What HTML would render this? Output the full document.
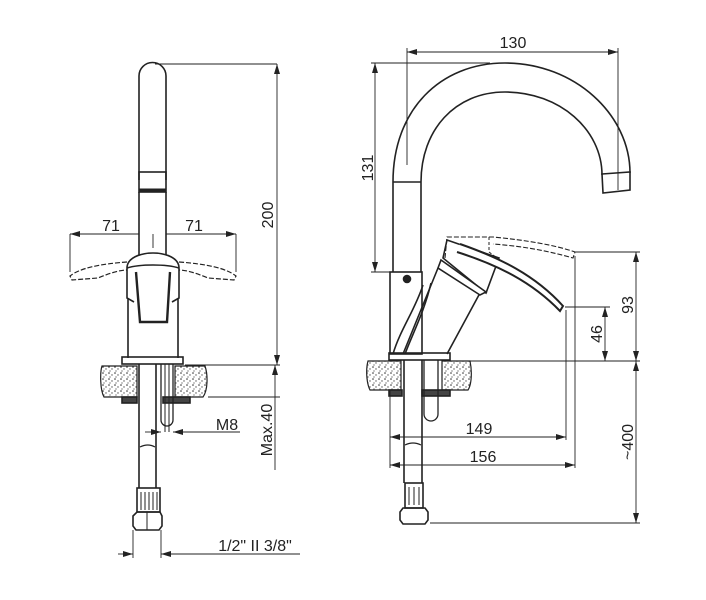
<!DOCTYPE html>
<html><head><style>
html,body{margin:0;padding:0;background:#fff;}
svg{display:block;}
text{font-family:"Liberation Sans",Arial,sans-serif;font-size:16px;fill:#222;}
</style></head><body>
<svg width="706" height="600" viewBox="0 0 706 600" xmlns="http://www.w3.org/2000/svg">
<defs>
<pattern id="st" width="6" height="6" patternUnits="userSpaceOnUse">
<rect width="6" height="6" fill="#fff"/>
<circle cx="1" cy="1" r="0.8" fill="#333"/><circle cx="4" cy="3" r="0.7" fill="#555"/><circle cx="2" cy="5" r="0.6" fill="#444"/>
</pattern>
<marker id="a" viewBox="0 0 10 6" refX="10" refY="3" markerWidth="10" markerHeight="6" orient="auto-start-reverse" markerUnits="userSpaceOnUse"><path d="M0,0L10,3L0,6z" fill="#222"/></marker>
</defs>
<g fill="none" stroke="#222" stroke-width="1.6">
<!-- LEFT VIEW -->
<path d="M139,180 V76 a13.5,13.5 0 0 1 27,0 V180"/>
<rect x="139" y="172" width="27" height="20"/>
<line x1="139" y1="190" x2="166" y2="190" stroke-width="3"/>
<line x1="139" y1="192" x2="139" y2="256"/><line x1="166" y1="192" x2="166" y2="256"/>
<path d="M127,262 C100,264 80,268 70,276 L72,280 L98,278 C110,273 120,270 127,270" stroke-dasharray="5,2" stroke-width="1.2"/>
<path d="M179,262 C206,264 226,268 236,276 L234,280 L208,278 C196,273 186,270 179,270" stroke-dasharray="5,2" stroke-width="1.2"/>
<path d="M127,268 C127,258 140,253 153,253 C166,253 179,258 179,268 V298 L172,302 M127,268 V298 L134,302" fill="#fff"/>
<path d="M136,272 L140,322 H167 L170,272" stroke-width="2.4"/>
<path d="M127,268 C140,264 166,264 179,268"/>
<line x1="128" y1="298" x2="128" y2="358"/><line x1="178" y1="298" x2="178" y2="358"/>
<rect x="122" y="357" width="61" height="7"/>
<path d="M102,366 H137 V397 H104 C100,390 100,372 102,366z" fill="url(#st)" stroke-width="1.2"/>
<path d="M175,366 H205 C208,375 208,390 203,397 H175z" fill="url(#st)" stroke-width="1.2"/>
<rect x="122" y="397" width="15" height="6" fill="#444"/><rect x="163" y="397" width="27" height="6" fill="#444"/>
<line x1="139" y1="364" x2="139" y2="488"/><line x1="156" y1="364" x2="156" y2="488"/>
<path d="M140,447 Q148,443 155,447" stroke-width="1.2"/>
<path d="M161,364 V420 a6,6 0 0 0 12,0 V364" stroke-width="1.3"/>
<line x1="165" y1="364" x2="165" y2="432" stroke-width="1"/><line x1="169" y1="364" x2="169" y2="432" stroke-width="1"/>
<rect x="137" y="488" width="23" height="24"/>
<line x1="141" y1="492" x2="141" y2="510" stroke-width="1"/><line x1="145" y1="492" x2="145" y2="510" stroke-width="1"/><line x1="149" y1="492" x2="149" y2="510" stroke-width="1"/><line x1="153" y1="492" x2="153" y2="510" stroke-width="1"/><line x1="157" y1="492" x2="157" y2="510" stroke-width="1"/>
<path d="M137,512 H160 L162,516 V526 L159,530 H136 L133,526 V516z"/>
<line x1="147" y1="512" x2="147" y2="530" stroke-width="1"/>
</g>
<g fill="none" stroke="#222" stroke-width="0.9">
<line x1="155" y1="64" x2="277" y2="64"/>
<line x1="277" y1="64" x2="277" y2="365" marker-start="url(#a)" marker-end="url(#a)"/>
<line x1="185" y1="365" x2="280" y2="365"/>
<line x1="208" y1="397" x2="280" y2="397"/>
<line x1="275" y1="365" x2="275" y2="470" marker-start="url(#a)"/>
<line x1="70" y1="234" x2="70" y2="272"/><line x1="236" y1="234" x2="236" y2="272"/>
<line x1="139" y1="234" x2="70" y2="234" marker-end="url(#a)"/>
<line x1="166" y1="234" x2="236" y2="234" marker-end="url(#a)"/>
<line x1="153" y1="234" x2="153" y2="248"/>
<line x1="145" y1="432" x2="161" y2="432" marker-end="url(#a)"/>
<line x1="188" y1="432" x2="173" y2="432" marker-end="url(#a)"/>
<line x1="173" y1="432" x2="240" y2="432"/>
<line x1="133" y1="530" x2="133" y2="558"/><line x1="161" y1="530" x2="161" y2="558"/>
<line x1="118" y1="554" x2="133" y2="554" marker-end="url(#a)"/>
<line x1="176" y1="554" x2="161" y2="554" marker-end="url(#a)"/>
<line x1="161" y1="554" x2="300" y2="554"/>
</g>
<text x="111" y="231" text-anchor="middle">71</text>
<text x="194" y="231" text-anchor="middle">71</text>
<text transform="translate(273,215) rotate(-90)" text-anchor="middle">200</text>
<text x="227" y="430" text-anchor="middle">M8</text>
<text transform="translate(272,430) rotate(-90)" text-anchor="middle">Max.40</text>
<text x="255" y="551" text-anchor="middle">1/2" II 3/8"</text>

<!-- RIGHT VIEW -->
<g fill="none" stroke="#222" stroke-width="1.6">
<path d="M393,272 V182 C393,110 440,63 505,63 C575,63 630,115 630,173"/>
<path d="M421,272 V182 C421,130 455,92 505,92 C560,92 602,130 602,175"/>
<path d="M602,174 L630,172 V190 L603,193z"/>
<line x1="393" y1="182" x2="421" y2="182"/>
<rect x="390" y="272" width="32" height="82"/>
<circle cx="407" cy="279" r="3.5" fill="#222"/>
<path d="M423,285 C415,310 400,330 393,354"/>
<path d="M431,283 C425,310 412,335 405,354"/>
<path d="M438,268 L403,354 M480,293 L447,354"/>
<path d="M447,240 L499,258 L486,293 L443,258z" fill="#fff"/>
<path d="M438,268 L441,260 L486,292 L480,295z" fill="#fff"/>
<path d="M460,244 C500,258 535,275 563,306 L560,311 C532,282 498,265 457,252" stroke-width="2" fill="#fff"/>
<path d="M445,258 L447,237 H493 C525,240 555,245 575,252 L573,258 C545,250 520,246 493,244" stroke-dasharray="5,2" stroke-width="1.1"/>
<path d="M489,237 V252 L497,258" stroke-dasharray="3,2" stroke-width="1"/>
<rect x="389" y="353" width="61" height="7"/>
<path d="M368,361 H401 V390 H370 C366,382 366,368 368,361z" fill="url(#st)" stroke-width="1.2"/>
<path d="M442,361 H470 C472,370 472,384 468,390 H442z" fill="url(#st)" stroke-width="1.2"/>
<rect x="389" y="390" width="13" height="6" fill="#444"/><rect x="422" y="390" width="28" height="6" fill="#444"/>
<line x1="404" y1="360" x2="404" y2="483"/><line x1="422" y1="360" x2="422" y2="483"/>
<path d="M405,445 Q413,441 421,445" stroke-width="1.2"/>
<path d="M424,360 V414 a7,7 0 0 0 14,0 V360" stroke-width="1.3"/>
<rect x="405" y="483" width="18" height="25"/>
<line x1="409" y1="487" x2="409" y2="505" stroke-width="1"/><line x1="414" y1="487" x2="414" y2="505" stroke-width="1"/><line x1="419" y1="487" x2="419" y2="505" stroke-width="1"/>
<path d="M403,508 H425 L428,512 V520 L425,524 H403 L400,520 V512z"/>
</g>
<g fill="none" stroke="#222" stroke-width="0.9">
<line x1="407" y1="52" x2="618" y2="52" marker-start="url(#a)" marker-end="url(#a)"/>
<line x1="407" y1="48" x2="407" y2="165"/><line x1="618" y1="48" x2="618" y2="190"/>
<line x1="375" y1="63" x2="375" y2="272" marker-start="url(#a)" marker-end="url(#a)"/>
<line x1="371" y1="63" x2="490" y2="63"/><line x1="371" y1="272" x2="390" y2="272"/>
<line x1="575" y1="252" x2="640" y2="252"/>
<line x1="565" y1="307" x2="610" y2="307"/>
<line x1="636" y1="252" x2="636" y2="361" marker-start="url(#a)" marker-end="url(#a)"/>
<line x1="605" y1="307" x2="605" y2="361" marker-start="url(#a)" marker-end="url(#a)"/>
<line x1="470" y1="361" x2="640" y2="361"/>
<line x1="636" y1="361" x2="636" y2="523" marker-start="url(#a)" marker-end="url(#a)"/>
<line x1="430" y1="523" x2="640" y2="523"/>
<line x1="566" y1="310" x2="566" y2="440"/><line x1="575" y1="256" x2="575" y2="468"/>
<line x1="390" y1="390" x2="390" y2="468"/>
<line x1="390" y1="437" x2="566" y2="437" marker-start="url(#a)" marker-end="url(#a)"/>
<line x1="390" y1="465" x2="575" y2="465" marker-start="url(#a)" marker-end="url(#a)"/>
</g>
<text x="513" y="48" text-anchor="middle">130</text>
<text transform="translate(373,168) rotate(-90)" text-anchor="middle">131</text>
<text transform="translate(633,305) rotate(-90)" text-anchor="middle">93</text>
<text transform="translate(602,334) rotate(-90)" text-anchor="middle">46</text>
<text x="479" y="434" text-anchor="middle">149</text>
<text x="483" y="462" text-anchor="middle">156</text>
<text transform="translate(633,442) rotate(-90)" text-anchor="middle">~400</text>
</svg>
</body></html>
